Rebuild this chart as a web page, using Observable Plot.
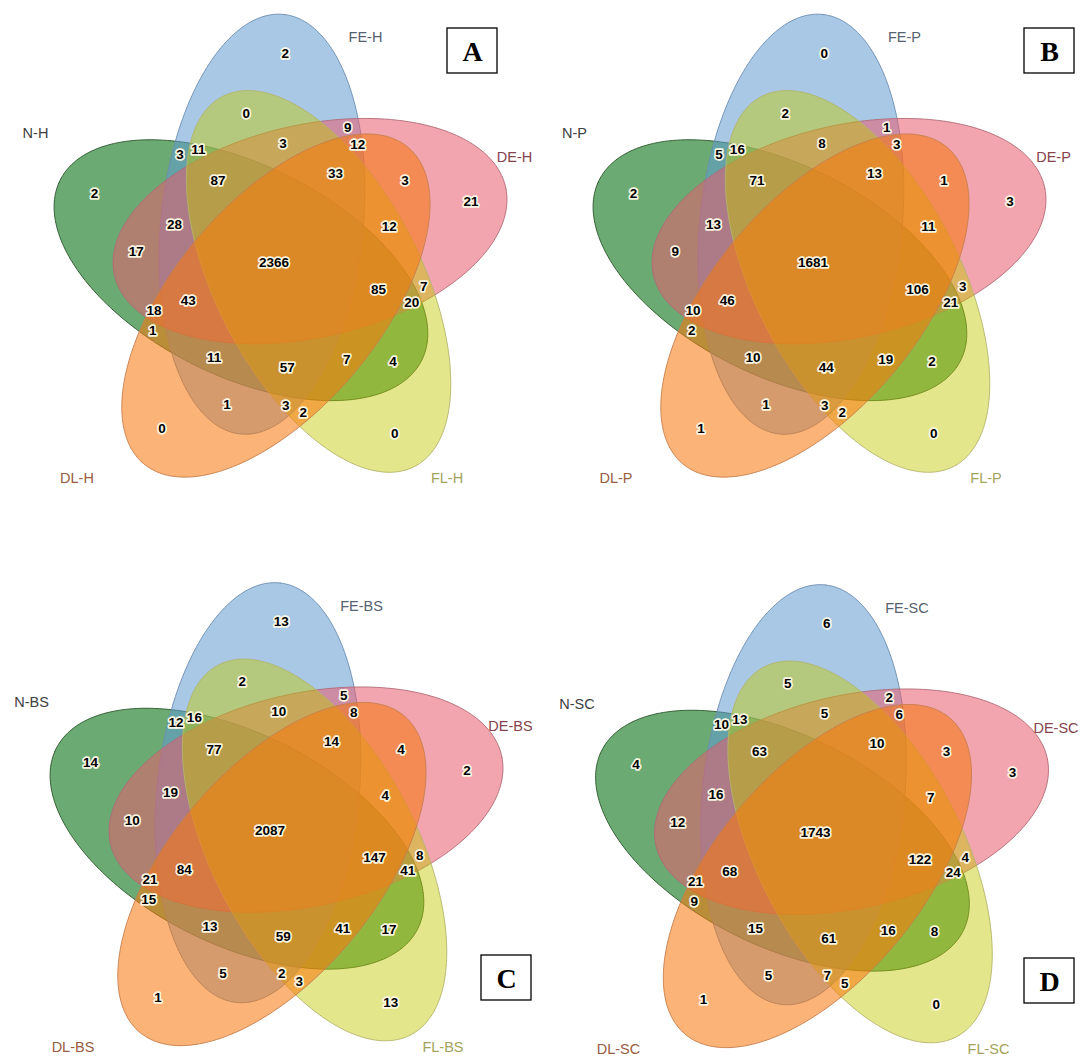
<!DOCTYPE html>
<html><head><meta charset="utf-8">
<script src="https://cdn.jsdelivr.net/npm/d3@7"></script>
<script src="https://cdn.jsdelivr.net/npm/@observablehq/plot@0.6"></script>
<style>body{margin:0;background:#fff} #chart{width:1086px;height:1057px}</style>
</head><body><div id="chart"></div>
<script>
// ---------------- data ----------------
// the five sets, in petal order clockwise from the top
const setKeys = ["FE", "DE", "FL", "DL", "N"];
const panelLetters = ["A", "B", "C", "D"];
const panelSuffixes = ["H", "P", "BS", "SC"];
// regions (set intersections); values below follow this order
const regions = [
  "FE", "DE", "FL", "DL", "N",
  "FE&FL", "DE&DL", "FL&N", "DL&FE", "N&DE",
  "FE&DE", "DE&FL", "FL&DL", "DL&N", "N&FE",
  "FE&DE&DL", "DE&FL&N", "FL&DL&FE", "DL&N&DE", "N&FE&FL",
  "FE&DE&FL", "DE&FL&DL", "FL&DL&N", "DL&N&FE", "N&FE&DE",
  "FE&DE&FL&DL", "DE&FL&DL&N", "FL&DL&N&FE", "DL&N&FE&DE", "N&FE&DE&FL",
  "FE&DE&FL&DL&N"
];
const valuesA = [2, 21, 0, 0, 2,  0, 3, 4, 1, 17,  9, 7, 2, 1, 3,  12, 20, 3, 18, 11,  3, 12, 7, 11, 28,  33, 85, 57, 43, 87,  2366];
const valuesB = [0, 3, 0, 1, 2,  2, 1, 2, 1, 9,  1, 3, 2, 2, 5,  3, 21, 3, 10, 16,  8, 11, 19, 10, 13,  13, 106, 44, 46, 71,  1681];
const valuesC = [13, 2, 13, 1, 14,  2, 4, 17, 5, 10,  5, 8, 3, 15, 12,  8, 41, 2, 21, 16,  10, 4, 41, 13, 19,  14, 147, 59, 84, 77,  2087];
const valuesD = [6, 3, 0, 1, 4,  5, 3, 8, 5, 12,  2, 4, 5, 9, 10,  6, 24, 7, 21, 13,  5, 7, 16, 15, 16,  10, 122, 61, 68, 63,  1743];
const panelValues = [valuesA, valuesB, valuesC, valuesD];

// ---------------- layout / style ----------------
const panelLayout = [
  {origin: [281, 262], box: [447, 28]},
  {origin: [820, 262], box: [1024, 28]},
  {origin: [277, 830.5], box: [481, 955]},
  {origin: [822.5, 832.5], box: [1024, 958]}
];
const boxSize = [50, 45];
const geom = {d: 41.2, centerAngle: -118.2, axisAngle: -83.6, A: 200, B: 101, sy: 1.055};
// label orbits: pattern of petal offsets, radius and angle (for petal 0)
const orbits = [
  {pattern: [0], r: 198, a: -88.9},
  {pattern: [0, 2], r: 145.7, a: -104},
  {pattern: [0, 1], r: 144.2, a: -62.7},
  {pattern: [0, 1, 3], r: 135.6, a: -55.8},
  {pattern: [0, 1, 2], r: 112.9, a: -89.3},
  {pattern: [0, 1, 2, 3], r: 100.2, a: -57.3}
];
const centerOffset = [-7.5, 0];
const nameOffsets = {N: [-246, -129], FE: [84, -225], DE: [233, -105], FL: [165.5, 216], DL: [-204.5, 216]};
const nameColors = {N: "#404040", FE: "#56626e", DE: "#86434c", FL: "#a3a35c", DL: "#9a5c40"};
const drawOrder = ["N", "FE", "DE", "FL", "DL"];
const ellipseStyle = {
  N:  {fill: "rgb(16,118,29)",  opacity: 0.62, stroke: "#2a552a"},
  FE: {fill: "rgb(97,155,210)", opacity: 0.55, stroke: "#6d8db0"},
  DE: {fill: "rgb(231,91,110)", opacity: 0.55, stroke: "#b06a76"},
  FL: {fill: "rgb(195,199,0)",  opacity: 0.45, stroke: "#b5b56a"},
  DL: {fill: "rgb(248,120,12)", opacity: 0.56, stroke: "#c67e4e"}
};

const rad = Math.PI / 180;
function toDisplay(origin, ux, uy) {
  return [origin[0] + ux, origin[1] + geom.sy * uy];
}
function ellipsePoints(origin, k) {
  const ca = (geom.centerAngle + 72 * k) * rad;
  const aa = (geom.axisAngle + 72 * k) * rad;
  const cx = geom.d * Math.cos(ca), cy = geom.d * Math.sin(ca);
  const ux = Math.cos(aa), uy = Math.sin(aa);
  const pts = [];
  for (let i = 0; i <= 240; i++) {
    const t = (i / 240) * 2 * Math.PI;
    const px = cx + geom.A * Math.cos(t) * ux - geom.B * Math.sin(t) * uy;
    const py = cy + geom.A * Math.cos(t) * uy + geom.B * Math.sin(t) * ux;
    const [x, y] = toDisplay(origin, px, py);
    pts.push({x, y});
  }
  return pts;
}
function regionPosition(region, origin) {
  const idx = region.split("&").map(s => setKeys.indexOf(s)).sort((a, b) => a - b);
  if (idx.length === 5) return [origin[0] + centerOffset[0], origin[1] + centerOffset[1]];
  for (const o of orbits) {
    if (o.pattern.length !== idx.length) continue;
    for (let k = 0; k < 5; k++) {
      const s = o.pattern.map(i => (i + k) % 5).sort((a, b) => a - b);
      if (s.every((v, i) => v === idx[i])) {
        const ang = (o.a + 72 * k) * rad;
        return toDisplay(origin, o.r * Math.cos(ang), o.r * Math.sin(ang));
      }
    }
  }
  return origin;
}

// ---------------- build marks ----------------
const marks = [];
panelLayout.forEach(p => {
  drawOrder.forEach(key => {
    const k = setKeys.indexOf(key);
    const st = ellipseStyle[key];
    marks.push(Plot.line(ellipsePoints(p.origin, k), {
      x: "x", y: "y", fill: st.fill, fillOpacity: st.opacity,
      stroke: st.stroke, strokeWidth: 1, strokeOpacity: 0.9, curve: "linear"
    }));
  });
});

const numberLabels = [];
panelLayout.forEach((p, pi) => {
  regions.forEach((r, ri) => {
    const [x, y] = regionPosition(r, p.origin);
    numberLabels.push({x, y, text: String(panelValues[pi][ri])});
  });
});
marks.push(Plot.text(numberLabels, {
  x: "x", y: "y", text: "text", fontWeight: "bold", fontSize: 13.5,
  fontFamily: "Liberation Sans, Arial, sans-serif", fill: "#000",
  stroke: "#fffbe8", strokeWidth: 3.5, strokeOpacity: 0.95, paintOrder: "stroke"
}));

const nameLabels = [];
panelLayout.forEach((p, pi) => {
  setKeys.forEach(key => {
    nameLabels.push({
      x: p.origin[0] + nameOffsets[key][0],
      y: p.origin[1] + nameOffsets[key][1],
      text: key + "-" + panelSuffixes[pi],
      color: nameColors[key]
    });
  });
});
marks.push(Plot.text(nameLabels, {
  x: "x", y: "y", text: "text", fill: d => d.color, fontSize: 14.5,
  fontFamily: "Liberation Sans, Arial, sans-serif"
}));

const boxes = panelLayout.map((p, pi) => ({
  x1: p.box[0], y1: p.box[1], x2: p.box[0] + boxSize[0], y2: p.box[1] + boxSize[1],
  letter: panelLetters[pi]
}));
marks.push(Plot.rect(boxes, {x1: "x1", x2: "x2", y1: "y1", y2: "y2", fill: "#fff", stroke: "#000", strokeWidth: 1.3}));
marks.push(Plot.text(boxes, {
  x: d => (d.x1 + d.x2) / 2, y: d => (d.y1 + d.y2) / 2 + 1, text: "letter",
  fontSize: 28, fontWeight: "bold", fontFamily: "Liberation Serif, Times New Roman, serif", fill: "#000"
}));

const chart = Plot.plot({
  width: 1086, height: 1057, margin: 0,
  style: {background: "#fff"},
  x: {domain: [0, 1086], range: [0, 1086], axis: null},
  y: {domain: [0, 1057], range: [0, 1057], axis: null},
  marks
});
document.getElementById("chart").appendChild(chart);
</script>
</body></html>
